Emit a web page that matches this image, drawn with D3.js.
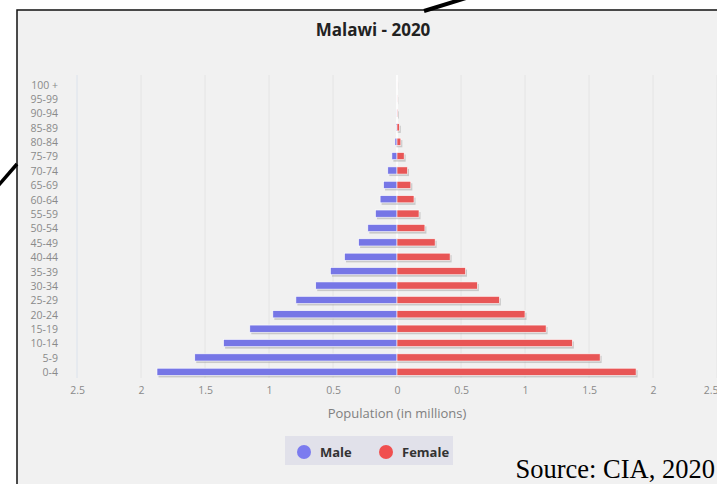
<!DOCTYPE html>
<html>
<head>
<meta charset="utf-8">
<script src="https://cdn.jsdelivr.net/npm/d3@7"></script>
<style>
  body { margin: 0; background: #fff; }
  svg { display: block; }
</style>
</head>
<body>
<div id="vis"></div>
<script>
// age groups, top to bottom
const ageGroups = ["100 +", "95-99", "90-94", "85-89", "80-84", "75-79", "70-74", "65-69",
  "60-64", "55-59", "50-54", "45-49", "40-44", "35-39", "30-34", "25-29", "20-24",
  "15-19", "10-14", "5-9", "0-4"];

// population in millions, same order as ageGroups
const male = [0.0002, 0.0005, 0.002, 0.006, 0.016, 0.04, 0.072, 0.105, 0.132, 0.168, 0.228,
  0.3, 0.41, 0.52, 0.635, 0.79, 0.97, 1.15, 1.355, 1.58, 1.875];
const female = [0.0003, 0.001, 0.004, 0.018, 0.03, 0.056, 0.082, 0.108, 0.133, 0.172, 0.218,
  0.298, 0.415, 0.535, 0.628, 0.8, 1.0, 1.165, 1.37, 1.587, 1.868];

const xTicks = [-2.5, -2, -1.5, -1, -0.5, 0, 0.5, 1, 1.5, 2, 2.5];

const width = 717, height = 484;
const male_color = "#7676e6";
const female_color = "#e85656";
const font = "'Open Sans', sans-serif";

const svg = d3.select("#vis").append("svg")
  .attr("width", width)
  .attr("height", height);

// chart panel
svg.append("rect")
  .attr("x", 17).attr("y", 10)
  .attr("width", width + 10).attr("height", height + 10)
  .attr("fill", "#f1f1f1")
  .attr("stroke", "#111")
  .attr("stroke-width", 1.5);

const x = d3.scaleLinear().domain([-2.5, 2.5]).range([77, 717]);
const y = d3.scaleBand().domain(ageGroups).range([77, 379]).paddingInner(0.5).paddingOuter(0.25);

// grid lines
svg.append("g")
  .selectAll("line")
  .data(xTicks.filter(t => t !== 0))
  .enter()
  .append("line")
  .attr("x1", d => x(d)).attr("x2", d => x(d))
  .attr("y1", 75).attr("y2", 378)
  .attr("stroke", d => d === -2.5 ? "#dbe2ec" : "#e4e4e4")
  .attr("stroke-width", 1);

// zero line
svg.append("line")
  .attr("x1", x(0)).attr("x2", x(0))
  .attr("y1", 75).attr("y2", 378)
  .attr("stroke", "#fff")
  .attr("stroke-width", 1.5);

// x axis labels
const xAxis = d3.axisBottom(x)
  .tickValues(xTicks)
  .tickSize(0)
  .tickFormat(d => d3.format("")(Math.abs(d)));

svg.append("g")
  .attr("transform", "translate(0,384)")
  .call(xAxis)
  .call(g => g.select(".domain").remove())
  .call(g => g.selectAll("text")
    .attr("fill", "#8a8a8a")
    .style("font-family", font)
    .style("font-size", "10.5px"))
  .call(g => g.selectAll(".tick")
    .filter(d => d === 2.5)
    .select("text")
    .attr("text-anchor", "end")
    .attr("x", 1));

// y axis labels
const yAxis = d3.axisLeft(y).tickSize(0).tickPadding(0);
svg.append("g")
  .attr("transform", "translate(58,1)")
  .call(yAxis)
  .call(g => g.select(".domain").remove())
  .call(g => g.selectAll("text")
    .attr("fill", "#8a8a8a")
    .style("font-family", font)
    .style("font-size", "10.5px"));

const bh = y.bandwidth();

function drawBars(values, side, color) {
  const g = svg.append("g");
  const left = d => side < 0 ? x(-values[d]) : x(0);
  const w = d => Math.abs(x(values[d] * side) - x(0));
  // shadows
  g.selectAll(".shadow")
    .data(d3.range(ageGroups.length))
    .enter()
    .append("rect")
    .attr("x", d => left(d) + 1.5)
    .attr("y", d => y(ageGroups[d]) + 2)
    .attr("width", w)
    .attr("height", bh)
    .attr("fill", "#999")
    .attr("opacity", 0.45);
  g.selectAll(".bar")
    .data(d3.range(ageGroups.length))
    .enter()
    .append("rect")
    .attr("x", left)
    .attr("y", d => y(ageGroups[d]))
    .attr("width", w)
    .attr("height", bh)
    .attr("fill", color)
    .attr("stroke", "#fff")
    .attr("stroke-width", 0.6);
}

drawBars(male, -1, male_color);
drawBars(female, 1, female_color);

// title
svg.append("text")
  .attr("x", 373).attr("y", 36)
  .attr("text-anchor", "middle")
  .style("font-family", font)
  .style("font-weight", "bold")
  .style("font-size", "17px")
  .attr("fill", "#222")
  .text("Malawi - 2020");

// axis title
svg.append("text")
  .attr("x", 397).attr("y", 418)
  .attr("text-anchor", "middle")
  .style("font-family", font)
  .style("font-size", "13px")
  .attr("fill", "#808080")
  .text("Population (in millions)");

// legend
const legend = svg.append("g");
legend.append("rect")
  .attr("x", 285).attr("y", 436)
  .attr("width", 168).attr("height", 29)
  .attr("fill", "#e1e1ea");
const legendItems = [
  { name: "Male", color: "#7b7bef", cx: 304 },
  { name: "Female", color: "#f04f4f", cx: 386 }
];
legendItems.forEach(item => {
  legend.append("circle")
    .attr("cx", item.cx).attr("cy", 452)
    .attr("r", 7)
    .attr("fill", item.color);
  legend.append("text")
    .attr("x", item.cx + 16).attr("y", 457)
    .style("font-family", font)
    .style("font-weight", "bold")
    .style("font-size", "13px")
    .attr("fill", "#333")
    .text(item.name);
});

// source note
svg.append("text")
  .attr("x", 715).attr("y", 478)
  .attr("text-anchor", "end")
  .style("font-family", "'Liberation Serif', 'Times New Roman', serif")
  .style("font-size", "26.5px")
  .attr("fill", "#000")
  .text("Source: CIA, 2020");

// pointer lines from the surrounding slide
svg.append("line")
  .attr("x1", 424).attr("y1", 11)
  .attr("x2", 466).attr("y2", -2)
  .attr("stroke", "#000")
  .attr("stroke-width", 4);
svg.append("line")
  .attr("x1", -2).attr("y1", 186)
  .attr("x2", 17).attr("y2", 164)
  .attr("stroke", "#000")
  .attr("stroke-width", 3.5);
</script>
</body>
</html>
